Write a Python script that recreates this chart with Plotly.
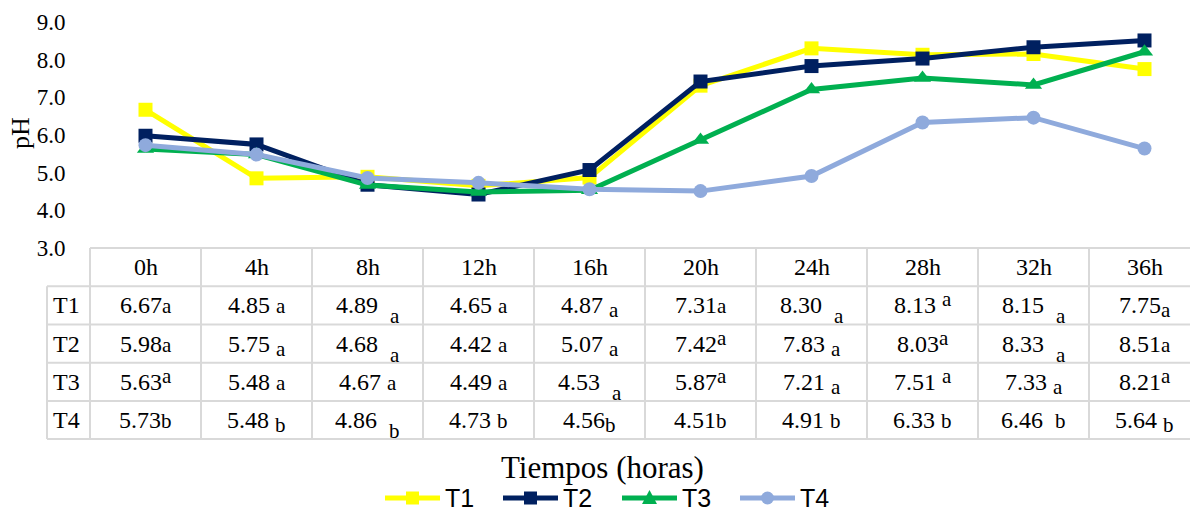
import plotly.graph_objects as go

# ---------------- data ----------------
hours = ["0h", "4h", "8h", "12h", "16h", "20h", "24h", "28h", "32h", "36h"]
series_names = ["T1", "T2", "T3", "T4"]
T1 = [6.67, 4.85, 4.89, 4.65, 4.87, 7.31, 8.30, 8.13, 8.15, 7.75]
T2 = [5.98, 5.75, 4.68, 4.42, 5.07, 7.42, 7.83, 8.03, 8.33, 8.51]
T3 = [5.63, 5.48, 4.67, 4.49, 4.53, 5.87, 7.21, 7.51, 7.33, 8.21]
T4 = [5.73, 5.48, 4.86, 4.73, 4.56, 4.51, 4.91, 6.33, 6.46, 5.64]
sig_T1 = ["a"] * 10
sig_T2 = ["a"] * 10
sig_T3 = ["a"] * 10
sig_T4 = ["b"] * 10
y_ticks = [3.0, 4.0, 5.0, 6.0, 7.0, 8.0, 9.0]

# ---------------- styles ----------------
colors = ["#FFFF00", "#002060", "#00B050", "#8FAADC"]
symbols = ["square", "square", "triangle-up", "circle"]
# placement of the significance letter in each table cell (style only):
# kind + number of spaces before the letter
letter_pos = [
    ["b0", "b1", "sub2", "b1", "sub1", "b0", "sub2", "sup1", "sub2", "sub0"],
    ["b0", "sub1", "sub2", "b1", "sub1", "sup0", "sub1", "sup0", "sub2", "b0"],
    ["sup0", "b1", "b1", "b1", "sub2", "sup0", "sub1", "sup1", "sub1", "sup0"],
    ["b0", "sub1", "sub2", "b1", "sub0", "b0", "b1", "b1", "b2", "sub1"],
]
letter_shift = {"b": -1, "sub": -5, "sup": 6}
deep_sub_shift = -11

W, H = 1190, 513
serif = "Liberation Serif, Times New Roman, serif"
sans = "Liberation Sans, Arial, sans-serif"
grid_col = "#D9D9D9"
num_size = 24
let_size = 21

# pixel geometry of plot area
plot_left, plot_right = 88, 1190
plot_top, plot_bottom = 22, 441
px_per_unit = (248 - 22) / 6.0
col_px = 111.0
y_top = 9.0
y_bot = y_top - (plot_bottom - plot_top) / px_per_unit
x_left = -0.5 - (90 - plot_left) / col_px
x_right = x_left + (plot_right - plot_left) / col_px

def px2paper_x(p):
    return (p - plot_left) / (plot_right - plot_left)

def px2paper_y(p):
    return (plot_bottom - p) / (plot_bottom - plot_top)

fig = go.Figure()
all_vals = [T1, T2, T3, T4]
all_sig = [sig_T1, sig_T2, sig_T3, sig_T4]
for name, vals, c, s in zip(series_names, all_vals, colors, symbols):
    fig.add_trace(go.Scatter(
        x=hours, y=vals, name=name, mode="lines+markers",
        line=dict(color=c, width=5),
        marker=dict(symbol=s, size=14 if s != "triangle-up" else 15, color=c),
        showlegend=False,
    ))

# ---------------- table ----------------
table_top = 3.0
n_rows = 5
row_h = (table_top - (y_bot + 0.05)) / n_rows
row_edges = [table_top - i * row_h for i in range(n_rows + 1)]
shapes = []
line_style = dict(color=grid_col, width=2)
shapes.append(dict(type="line", xref="x", yref="y", x0=-0.5, x1=x_right + 1,
                   y0=row_edges[0], y1=row_edges[0], line=line_style))
for ye in row_edges[1:]:
    shapes.append(dict(type="line", xref="paper", yref="y", x0=px2paper_x(47), x1=1.0,
                       y0=ye, y1=ye, line=line_style))
for k in range(len(hours)):
    shapes.append(dict(type="line", xref="x", yref="y", x0=-0.5 + k, x1=-0.5 + k,
                       y0=row_edges[0], y1=row_edges[-1], line=line_style))
shapes.append(dict(type="line", xref="paper", yref="y", x0=px2paper_x(47), x1=px2paper_x(47),
                   y0=row_edges[1], y1=row_edges[-1], line=line_style))

annotations = []
for i, hname in enumerate(hours):
    annotations.append(dict(x=i, y=(row_edges[0] + row_edges[1]) / 2, xref="x", yref="y",
                            text=hname, showarrow=False,
                            font=dict(family=serif, size=num_size, color="black")))

def num_width(s, size):
    return sum(0.25 if ch == "." else 0.5 for ch in s) * size

for r, (name, vals, sigs) in enumerate(zip(series_names, all_vals, all_sig)):
    yc = (row_edges[r + 1] + row_edges[r + 2]) / 2
    annotations.append(dict(x=px2paper_x(51), y=yc, xref="paper", yref="y", xanchor="left",
                            text=name, showarrow=False,
                            font=dict(family=serif, size=num_size, color="black")))
    for i, (v, l) in enumerate(zip(vals, sigs)):
        pos = letter_pos[r][i]
        kind = pos.rstrip("0123456789")
        n_sp = int(pos[len(kind):])
        num = f"{v:.2f}"
        nw = num_width(num, num_size)
        gap = n_sp * 0.25 * num_size
        lw = (0.444 if l == "a" else 0.5) * let_size
        total = nw + gap + lw
        start = -total / 2
        annotations.append(dict(x=i, y=yc, xref="x", yref="y", xanchor="left", xshift=start - 2,
                                text=num, showarrow=False,
                                font=dict(family=serif, size=num_size, color="black")))
        ys = letter_shift[kind]
        if kind == "sub" and n_sp >= 2:
            ys = deep_sub_shift
        annotations.append(dict(x=i, y=yc, xref="x", yref="y", xanchor="left",
                                xshift=start + nw + gap - 2, yshift=ys,
                                text=l, showarrow=False,
                                font=dict(family=serif, size=let_size, color="black")))

annotations.append(dict(x=px2paper_x(602), y=px2paper_y(467), xref="paper", yref="paper",
                        xanchor="center", yanchor="middle",
                        text="Tiempos (horas)", showarrow=False,
                        font=dict(family=serif, size=31, color="black")))
annotations.append(dict(x=px2paper_x(21), y=px2paper_y(133), xref="paper", yref="paper",
                        xanchor="center", yanchor="middle",
                        text="pH", showarrow=False, textangle=-90,
                        font=dict(family=serif, size=26, color="black")))

# ---------------- legend (drawn manually) ----------------
leg_y = 498
leg_starts = [385, 503, 622, 740]
leg_line_len = 55
msz = 13
for name, c, s, x0 in zip(series_names, colors, symbols, leg_starts):
    yp = px2paper_y(leg_y)
    shapes.append(dict(type="line", xref="paper", yref="paper",
                       x0=px2paper_x(x0), x1=px2paper_x(x0 + leg_line_len), y0=yp, y1=yp,
                       line=dict(color=c, width=5)))
    cx = x0 + leg_line_len / 2
    if s == "square":
        shapes.append(dict(type="rect", xref="paper", yref="paper",
                           x0=px2paper_x(cx - msz / 2), x1=px2paper_x(cx + msz / 2),
                           y0=px2paper_y(leg_y + msz / 2), y1=px2paper_y(leg_y - msz / 2),
                           fillcolor=c, line=dict(width=0)))
    elif s == "circle":
        shapes.append(dict(type="circle", xref="paper", yref="paper",
                           x0=px2paper_x(cx - msz / 2), x1=px2paper_x(cx + msz / 2),
                           y0=px2paper_y(leg_y + msz / 2), y1=px2paper_y(leg_y - msz / 2),
                           fillcolor=c, line=dict(width=0)))
    else:
        pts = [(cx - 7.5, leg_y + 6), (cx + 7.5, leg_y + 6), (cx, leg_y - 8)]
        path = "M " + " L ".join(f"{px2paper_x(a)},{px2paper_y(b)}" for a, b in pts) + " Z"
        shapes.append(dict(type="path", xref="paper", yref="paper", path=path,
                           fillcolor=c, line=dict(width=0)))
    annotations.append(dict(x=px2paper_x(x0 + leg_line_len + 3), y=px2paper_y(leg_y),
                            xref="paper", yref="paper", xanchor="left", yanchor="middle",
                            text=name, showarrow=False,
                            font=dict(family=sans, size=25, color="black")))

fig.update_layout(
    width=W, height=H,
    margin=dict(l=plot_left, r=W - plot_right, t=plot_top, b=H - plot_bottom),
    paper_bgcolor="white", plot_bgcolor="white",
    xaxis=dict(range=[x_left, x_right], showticklabels=False, showgrid=False,
               zeroline=False, showline=False, ticks=""),
    yaxis=dict(range=[y_bot, y_top], tickvals=y_ticks, ticktext=[f"{t:.1f}" for t in y_ticks],
               showgrid=False, zeroline=False, showline=False,
               ticks="outside", ticklen=17, tickcolor="rgba(0,0,0,0)",
               tickfont=dict(family=serif, size=23, color="black")),
    shapes=shapes, annotations=annotations,
    showlegend=False,
)

fig.write_html("out.html", config={"displayModeBar": False},
               post_script="document.body.style.margin='0px';")
